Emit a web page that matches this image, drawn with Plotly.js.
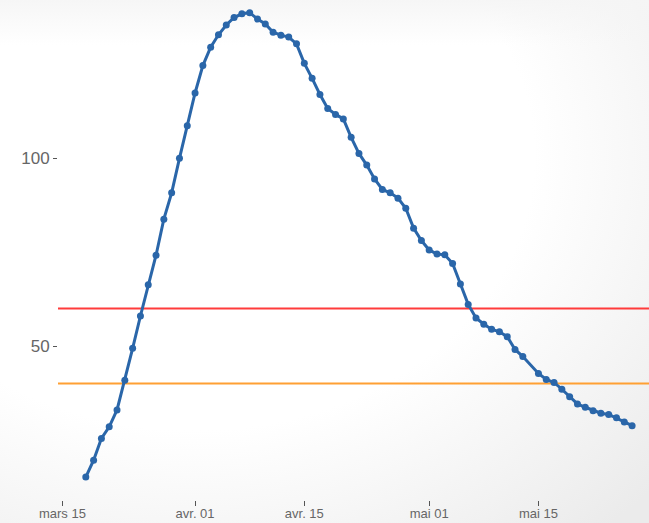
<!DOCTYPE html>
<html>
<head>
<meta charset="utf-8">
<script src="https://cdn.plot.ly/plotly-3.0.1.min.js"></script>
<style>
  html, body { margin: 0; padding: 0; }
  body {
    width: 649px; height: 523px; overflow: hidden;
    background:
      linear-gradient(to bottom, rgba(245,245,245,0.9) 0px, rgba(255,255,255,0) 45px),
      radial-gradient(ellipse 95% 95% at 30% 30%, #ffffff 55%, #ebebeb 100%);
  }
  #chart { width: 649px; height: 523px; }
</style>
</head>
<body>
<div id="chart"></div>
<script>
// ---- data ----
const dates = [
  '2020-03-18','2020-03-19','2020-03-20','2020-03-21','2020-03-22','2020-03-23','2020-03-24',
  '2020-03-25','2020-03-26','2020-03-27','2020-03-28','2020-03-29','2020-03-30','2020-03-31',
  '2020-04-01','2020-04-02','2020-04-03','2020-04-04','2020-04-05','2020-04-06','2020-04-07',
  '2020-04-08','2020-04-09','2020-04-10','2020-04-11','2020-04-12','2020-04-13','2020-04-14',
  '2020-04-15','2020-04-16','2020-04-17','2020-04-18','2020-04-19','2020-04-20','2020-04-21',
  '2020-04-22','2020-04-23','2020-04-24','2020-04-25','2020-04-26','2020-04-27','2020-04-28',
  '2020-04-29','2020-04-30','2020-05-01','2020-05-02','2020-05-03','2020-05-04','2020-05-05',
  '2020-05-06','2020-05-07','2020-05-08','2020-05-09','2020-05-10','2020-05-11','2020-05-12',
  '2020-05-13','2020-05-15','2020-05-16','2020-05-17','2020-05-18','2020-05-19','2020-05-20',
  '2020-05-21','2020-05-22','2020-05-23','2020-05-24','2020-05-25','2020-05-26','2020-05-27'
];
const values = [
  15.1, 19.6, 25.4, 28.5, 33.0, 40.9, 49.4,
  58.0, 66.3, 74.2, 83.8, 90.8, 100.0, 108.7,
  117.4, 124.7, 129.6, 132.9, 135.5, 137.5, 138.5,
  138.8, 137.1, 135.8, 133.6, 132.8, 132.3, 130.5,
  125.3, 121.3, 117.0, 113.3, 111.7, 110.5, 105.6,
  101.3, 98.2, 94.5, 91.7, 90.8, 89.4, 86.7,
  81.4, 78.1, 75.6, 74.5, 74.3, 72.0, 66.5,
  61.1, 57.5, 55.8, 54.5, 53.8, 52.5, 49.1,
  47.2, 42.7, 41.1, 40.3, 38.5, 36.5, 34.6,
  33.7, 32.8, 32.1, 31.8, 30.9, 29.8, 28.8
];
const thresholds = [60, 40];
const thresholdColors = ['#ff3b3b', '#ffa033'];
const xTickVals = ['2020-03-15', '2020-04-01', '2020-04-15', '2020-05-01', '2020-05-15'];
const xTickText = ['mars 15', 'avr. 01', 'avr. 15', 'mai 01', 'mai 15'];
const yTickVals = [50, 100];
const yTickText = ['50', '100'];

// ---- chart ----
const trace = {
  x: dates, y: values, type: 'scatter', mode: 'lines+markers',
  line: { color: '#2a66a9', width: 3 },
  marker: { color: '#2a66a9', size: 7 },
  hoverinfo: 'skip', showlegend: false
};

const shapes = thresholds.map((v, i) => ({
  type: 'line', xref: 'paper', x0: 0, x1: 1, yref: 'y', y0: v, y1: v,
  line: { color: thresholdColors[i], width: 2 }, layer: 'below'
}));

const layout = {
  width: 649, height: 523,
  margin: { l: 58, r: 0, t: 0, b: 23, pad: 0 },
  paper_bgcolor: 'rgba(0,0,0,0)', plot_bgcolor: 'rgba(0,0,0,0)',
  font: { family: 'Liberation Sans, Arial, sans-serif', color: '#666666' },
  showlegend: false,
  shapes: shapes,
  xaxis: {
    type: 'date',
    range: ['2020-03-14 10:30', '2020-05-29 04:00'],
    tickmode: 'array', tickvals: xTickVals, ticktext: xTickText,
    showgrid: false, zeroline: false, showline: false,
    ticks: 'outside', ticklen: 5, tickwidth: 1, tickcolor: '#555555',
    ticklabelstandoff: -4,
    tickfont: { size: 13, color: '#666666' }
  },
  yaxis: {
    range: [9.0, 142.17],
    tickmode: 'array', tickvals: yTickVals, ticktext: yTickText,
    showgrid: false, zeroline: false, showline: false,
    ticks: 'outside', ticklen: 4, tickwidth: 1, tickcolor: '#555555',
    tickfont: { size: 17, color: '#666666' }
  }
};

Plotly.newPlot('chart', [trace], layout, { displayModeBar: false, staticPlot: true });
</script>
</body>
</html>
